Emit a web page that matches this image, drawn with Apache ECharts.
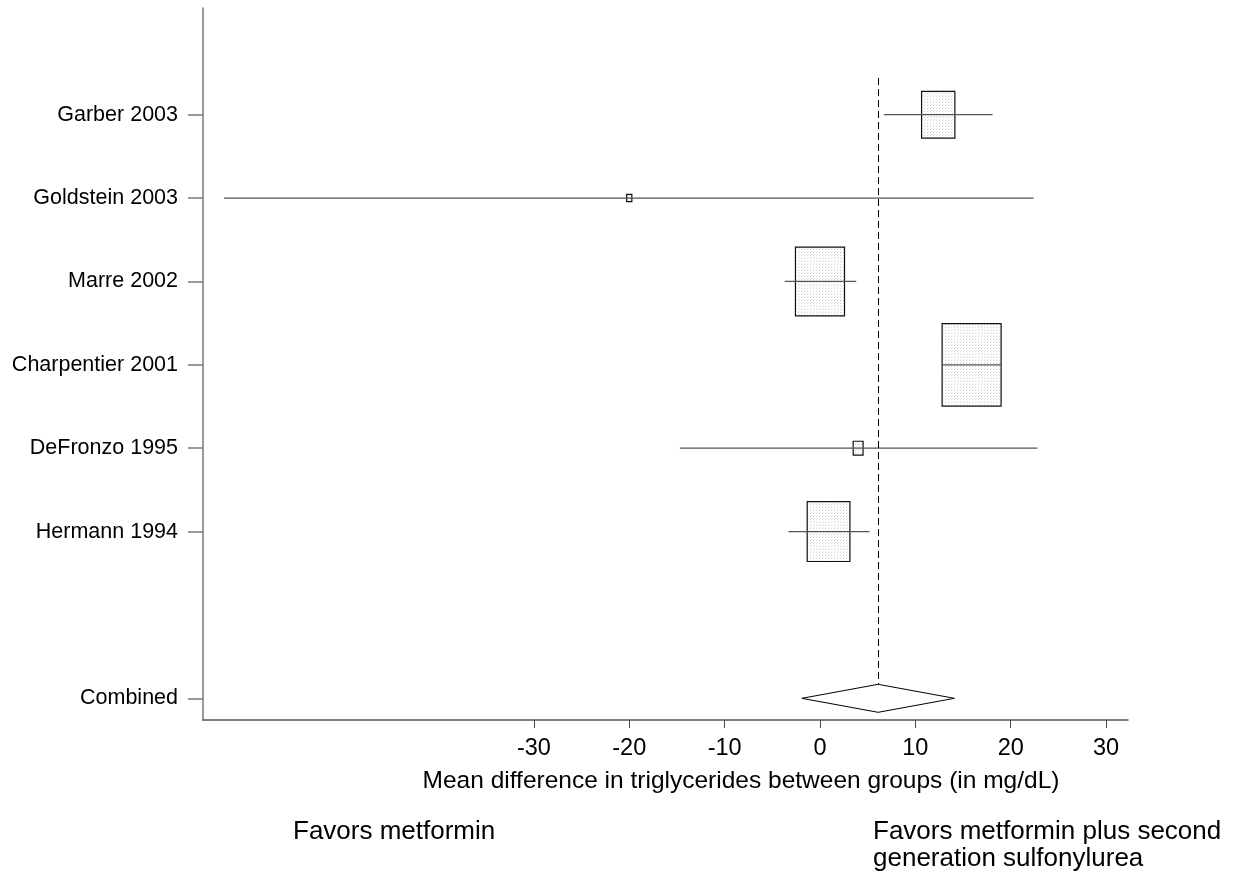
<!DOCTYPE html>
<html>
<head>
<meta charset="utf-8">
<title>Triglycerides forest plot</title>
<script src="https://cdn.jsdelivr.net/npm/echarts@6/dist/echarts.min.js"></script>
<style>
  html, body { margin: 0; padding: 0; background: #fff; }
  #chart { width: 1235px; height: 880px; }
</style>
</head>
<body>
<div id="chart"></div>
<script>
// Study-level mean differences in triglycerides (mg/dL) with 95% CI and weights (%)
const studies   = ['Garber 2003', 'Goldstein 2003', 'Marre 2002', 'Charpentier 2001', 'DeFronzo 1995', 'Hermann 1994'];
const meanDiff  = [12.4, -20.0, 0.0, 15.9, 4.0, 0.9];
const ciLow     = [6.7, -62.5, -3.7, 12.9, -14.7, -3.3];
const ciHigh    = [18.1, 22.4, 3.8, 19.0, 22.8, 5.2];
const weightPct = [12.4, 0.3, 26.9, 38.9, 1.1, 20.4];

// Pooled estimate
const pooledLabel = 'Combined';
const pooledMean  = 6.1;
const pooledLow   = -1.9;
const pooledHigh  = 14.1;

// Axis ticks
const xTicks = [-30, -20, -10, 0, 10, 20, 30];

const FONT = '"Liberation Sans", Arial, Helvetica, sans-serif';

// Row slots: studies on rows 1..6, pooled row two slots further down
const studyRows = studies.map((_, i) => i + 1);
const pooledRow = studies.length + 2;
const rowNames = {};
studies.forEach((s, i) => { rowNames[studyRows[i]] = s; });
rowNames[pooledRow] = pooledLabel;

// Light stippled fill for the weight boxes
function stipple() {
  const c = document.createElement('canvas');
  c.width = 3; c.height = 3;
  const g = c.getContext('2d');
  g.fillStyle = '#ffffff';
  g.fillRect(0, 0, 3, 3);
  g.fillStyle = '#cfcfcf';
  g.fillRect(0, 0, 1, 1);
  g.fillStyle = '#e6e6e6';
  g.fillRect(1, 2, 1, 1);
  return c;
}
const stippleCanvas = stipple();

const studyData = studies.map((s, i) => [meanDiff[i], studyRows[i], ciLow[i], ciHigh[i], weightPct[i]]);

const chart = echarts.init(document.getElementById('chart'), null, { renderer: 'canvas' });

chart.setOption({
  animation: false,
  backgroundColor: '#ffffff',
  grid: { left: 203, right: 107, top: 8, bottom: 160, containLabel: false },
  xAxis: {
    type: 'value',
    min: -64.7,
    max: 32.3,
    splitLine: { show: false },
    axisLine: { show: true, onZero: false, lineStyle: { color: '#555', width: 1.5 } },
    axisTick: { show: true, customValues: xTicks, length: 8, inside: false, lineStyle: { color: '#444', width: 1 } },
    axisLabel: {
      customValues: xTicks,
      margin: 17,
      color: '#000',
      fontFamily: FONT,
      fontSize: 23.5
    }
  },
  yAxis: {
    type: 'value',
    inverse: true,
    min: -0.28,
    max: 8.26,
    splitLine: { show: false },
    axisLine: { show: true, onZero: false, lineStyle: { color: '#7a7a7a', width: 1.5 } },
    axisTick: { show: true, customValues: studyRows.concat([pooledRow]), length: 15, lineStyle: { color: '#7a7a7a', width: 1.5 } },
    axisLabel: {
      customValues: studyRows.concat([pooledRow]),
      formatter: v => rowNames[v] || '',
      margin: 25,
      color: '#000',
      fontFamily: FONT,
      fontSize: 21.5
    }
  },
  series: [
    {
      // Study boxes (area proportional to weight) with CI lines
      type: 'custom',
      coordinateSystem: 'cartesian2d',
      data: studyData,
      renderItem: function (params, api) {
        const c = api.coord([api.value(0), api.value(1)]);
        const lo = api.coord([api.value(2), api.value(1)]);
        const hi = api.coord([api.value(3), api.value(1)]);
        const w = 9.46 * Math.sqrt(api.value(4));
        const h = w * 1.4;
        return {
          type: 'group',
          children: [
            {
              type: 'rect',
              shape: { x: c[0] - w / 2, y: c[1] - h / 2, width: w, height: h },
              style: { fill: { image: stippleCanvas, repeat: 'repeat' }, stroke: '#111', lineWidth: 1.2 }
            },
            {
              type: 'line',
              shape: { x1: lo[0], y1: c[1], x2: hi[0], y2: c[1] },
              style: { stroke: '#555', lineWidth: 1.2 }
            }
          ]
        };
      }
    },
    {
      // Pooled diamond and dashed reference line at the pooled estimate
      type: 'custom',
      coordinateSystem: 'cartesian2d',
      data: [[pooledMean, pooledRow, pooledLow, pooledHigh]],
      renderItem: function (params, api) {
        const c = api.coord([api.value(0), api.value(1)]);
        const lo = api.coord([api.value(2), api.value(1)]);
        const hi = api.coord([api.value(3), api.value(1)]);
        const top = api.coord([api.value(0), 0.56]);
        const hh = 14;
        const xl = Math.round(c[0]) + 0.5;
        return {
          type: 'group',
          children: [
            {
              type: 'line',
              shape: { x1: xl, y1: top[1], x2: xl, y2: c[1] - hh },
              style: { stroke: '#000', lineWidth: 1, lineDash: [7, 4] }
            },
            {
              type: 'polygon',
              shape: { points: [[lo[0], c[1]], [c[0], c[1] - hh], [hi[0], c[1]], [c[0], c[1] + hh]] },
              style: { fill: '#fff', stroke: '#000', lineWidth: 1 }
            }
          ]
        };
      }
    }
  ],
  graphic: [
    {
      type: 'text',
      x: 741, y: 781,
      style: {
        text: 'Mean difference in triglycerides between groups (in mg/dL)',
        fill: '#000', font: '24.5px ' + FONT, textAlign: 'center', textVerticalAlign: 'middle'
      }
    },
    {
      type: 'text',
      x: 293, y: 832,
      style: {
        text: 'Favors metformin',
        fill: '#000', font: '26px ' + FONT, textAlign: 'left', textVerticalAlign: 'middle'
      }
    },
    {
      type: 'text',
      x: 873, y: 818,
      style: {
        text: 'Favors metformin plus second\ngeneration sulfonylurea',
        fill: '#000', font: '26px ' + FONT, lineHeight: 27, textAlign: 'left', textVerticalAlign: 'top'
      }
    }
  ]
});
</script>
</body>
</html>
